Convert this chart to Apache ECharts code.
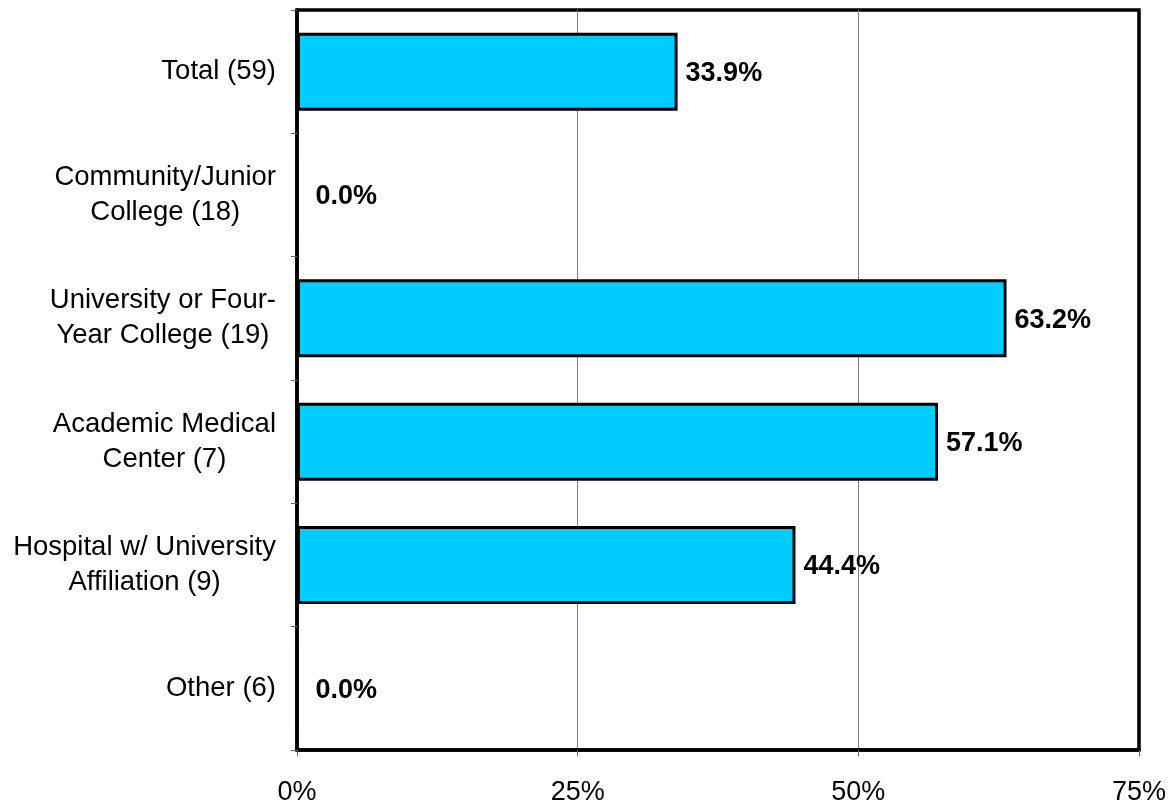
<!DOCTYPE html>
<html>
<head>
<meta charset="utf-8">
<script src="https://cdn.jsdelivr.net/npm/echarts@6/dist/echarts.min.js"></script>
<style>
  html, body { margin: 0; padding: 0; background: #fff; }
  #chart { width: 1174px; height: 806px; }
</style>
</head>
<body>
<div id="chart"></div>
<script>
// categories, top to bottom
var categories = [
  'Total (59)',
  'Community/Junior\nCollege (18)',
  'University or Four-\nYear College (19)',
  'Academic Medical\nCenter (7)',
  'Hospital w/ University\nAffiliation (9)',
  'Other (6)'
]
// percent values
var values = [33.9, 0.0, 63.2, 57.1, 44.4, 0.0]
var xTicks = [0, 25, 50, 75]

var chart = echarts.init(document.getElementById('chart'))

var font = '"Liberation Sans", Arial, sans-serif'

var option = {
  animation: false,
  grid: {
    left: 297,
    right: 35,
    top: 10,
    bottom: 55,
    show: true,
    borderColor: '#000',
    borderWidth: 3.5,
    containLabel: false
  },
  xAxis: {
    type: 'value',
    min: xTicks[0],
    max: xTicks[xTicks.length - 1],
    interval: 25,
    axisLine: { show: true, lineStyle: { color: '#000', width: 3.5 } },
    axisTick: { show: true, length: 6, lineStyle: { color: '#666', width: 1 } },
    axisLabel: {
      margin: 29,
      fontFamily: font,
      fontSize: 27,
      color: '#000',
      formatter: function (v) { return v + '%' }
    },
    splitLine: {
      show: true,
      lineStyle: { color: ['#000', '#808080', '#808080', '#000'], width: 1 }
    }
  },
  yAxis: {
    type: 'category',
    data: categories,
    inverse: true,
    axisLine: { show: true, lineStyle: { color: '#000', width: 3.5 } },
    axisTick: { show: true, length: 6, lineStyle: { color: '#666', width: 1 } },
    axisLabel: {
      margin: 21,
      color: '#000',
      formatter: function (v) {
        return v.split('\n').map(function (s) { return '{c|' + s + '}' }).join('\n')
      },
      rich: {
        c: {
          align: 'center',
          fontFamily: font,
          fontSize: 27.5,
          lineHeight: 35,
          color: '#000'
        }
      }
    }
  },
  series: [
    {
      type: 'bar',
      data: values.map(function (v) {
        return v === 0 ? { value: v, label: { distance: 17 } } : v
      }),
      barWidth: 78,
      itemStyle: {
        color: '#00CCFF',
        borderColor: '#000',
        borderWidth: 3
      },
      label: {
        show: true,
        position: 'right',
        distance: 8,
        offset: [0, 2],
        fontFamily: font,
        fontSize: 27,
        fontWeight: 'bold',
        color: '#000',
        formatter: function (p) { return p.value.toFixed(1) + '%' }
      }
    }
  ]
}

chart.setOption(option)
</script>
</body>
</html>
